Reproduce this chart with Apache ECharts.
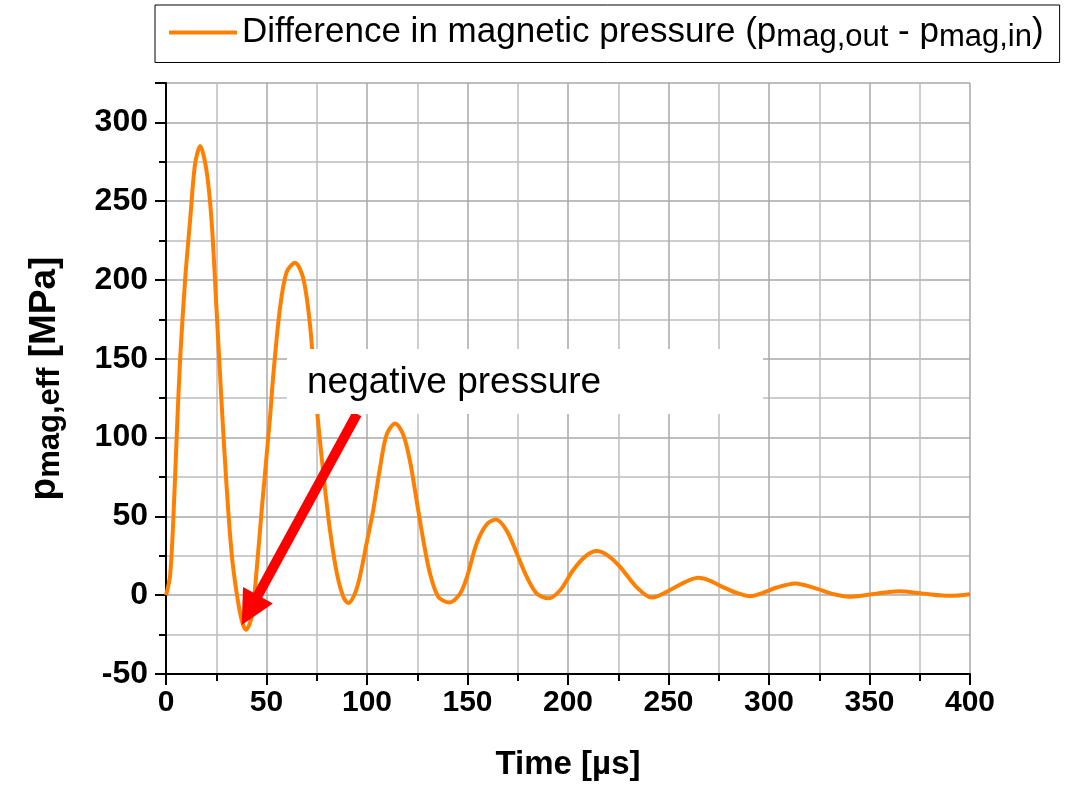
<!DOCTYPE html>
<html>
<head>
<meta charset="utf-8">
<script src="https://cdn.jsdelivr.net/npm/echarts@6/dist/echarts.min.js"></script>
<style>
html,body{margin:0;padding:0;background:#fff;}
#c{width:1070px;height:786px;}
</style>
</head>
<body>
<div id="c"></div>
<script>
// Time [µs]
const timeUs = [0,2,3.6,5.3,7,9.5,12,14.4,17,20.2,22.7,25.2,27.7,30.2,32.7,35.2,37.7,39.8,42.6,45.1,47.6,51.7,53.4,56.7,60,64.2,68.3,71.6,75,78.3,81.6,85,88.2,90.7,94,96.5,99.8,103.1,106.5,109.8,114,118,121.4,124.7,128,131.3,135.5,141,146.3,149.6,154.6,159.6,164.2,169.5,174.5,179.5,184.5,190.2,196,202.6,208.5,214.3,220,225.9,234.2,241.6,252.4,258.5,264.8,271,277.3,284,290.5,297,303.8,313,323.7,331,340.3,347,353.6,364.4,376.8,390,400];
// Difference in magnetic pressure [MPa]
const pressure = [0,12,47,100,149,200,238,273,285,269,237,180,121,68,26,1,-16,-22,-14,16,54,112,140,182,205,211,201,172,119,77,41,14,-1,-5,1,12,33,54,81,102,109,102,85,60,35,14,-1,-4.6,1,11,33,45,48,41,26.6,11.6,1,-2,3,16,24.5,28,25,18,5,-1.5,4.4,8.5,11,9,5,1.5,-0.6,1.5,4.9,7.5,4.2,1,-1,-0.2,1,2.5,1,-0.4,0.6];
const xTicks = {min: 0, max: 400, interval: 50};
const yTicks = {min: -50, max: 325, interval: 50};
// annotation arrow (data coordinates): from label box to the negative trough
const arrowFrom = [95, 115];
const arrowTo = [41.7, -9.5];
const annotationText = 'negative pressure';

const chart = echarts.init(document.getElementById('c'));
const seriesData = timeUs.map((t, i) => [t, pressure[i]]);
const FONT = 'Liberation Sans, Arial, sans-serif';

chart.setOption({
  animation: false,
  backgroundColor: '#fff',
  grid: {left: 166, right: 100, top: 83, bottom: 112, containLabel: false},
  legend: {
    left: 155, top: 5,
    padding: [10, 16, 10, 14],
    borderColor: '#000', borderWidth: 1,
    itemWidth: 68, itemHeight: 4, itemGap: 10,
    icon: 'rect',
    data: ['diff'],
    formatter: () => '{a|Difference in magnetic pressure (p}{s|mag,out}{a| - p}{s|mag,in}{a|)}',
    textStyle: {
      fontFamily: FONT, color: '#000', padding: [0,0,0,0],
      rich: {
        a: {fontFamily: FONT, fontSize: 35, color: '#000', lineHeight: 40, verticalAlign: 'middle'},
        s: {fontFamily: FONT, fontSize: 31, color: '#000', lineHeight: 28, verticalAlign: 'bottom'}
      }
    }
  },
  xAxis: {
    type: 'value', min: xTicks.min, max: xTicks.max, interval: xTicks.interval,
    name: 'Time [µs]', nameLocation: 'middle', nameGap: 74,
    nameTextStyle: {fontFamily: FONT, fontSize: 33, fontWeight: 'bold', color: '#000'},
    axisLine: {show: true, onZero: false, lineStyle: {color: '#000', width: 2}},
    axisTick: {show: true, length: 11, lineStyle: {color: '#000', width: 2}},
    minorTick: {show: true, splitNumber: 2, length: 7, lineStyle: {color: '#000', width: 2}},
    axisLabel: {fontFamily: FONT, fontSize: 30, fontWeight: 'bold', color: '#000', margin: 14},
    splitLine: {show: true, lineStyle: {color: '#a8a8a8', width: 1.5}},
    minorSplitLine: {show: true, lineStyle: {color: '#bdbdbd', width: 1.5}}
  },
  yAxis: {
    type: 'value', min: yTicks.min, max: yTicks.max, interval: yTicks.interval,
    name: '{p|p}{s|mag,eff}{p| [MPa]}', nameLocation: 'middle', nameGap: 100, nameRotate: 90,
    nameTextStyle: {
      fontFamily: FONT, color: '#000',
      rich: {
        p: {fontFamily: FONT, fontSize: 37, fontWeight: 'bold', color: '#000', lineHeight: 42, verticalAlign: 'middle'},
        s: {fontFamily: FONT, fontSize: 31, fontWeight: 'bold', color: '#000', lineHeight: 28, verticalAlign: 'bottom'}
      }
    },
    axisLine: {show: true, onZero: false, lineStyle: {color: '#000', width: 2}},
    axisTick: {show: true, length: 11, lineStyle: {color: '#000', width: 2}},
    minorTick: {show: true, splitNumber: 2, length: 7, lineStyle: {color: '#000', width: 2}},
    axisLabel: {fontFamily: FONT, fontSize: 32, fontWeight: 'bold', color: '#000', margin: 18,
      formatter: v => (v % 50 === 0 ? String(v) : '')},
    splitLine: {show: true, lineStyle: {color: '#a8a8a8', width: 1.5}},
    minorSplitLine: {show: true, lineStyle: {color: '#bdbdbd', width: 1.5}}
  },
  series: [{
    name: 'diff', type: 'line', data: seriesData,
    showSymbol: false, smooth: 0.3,
    lineStyle: {color: '#ff8000', width: 4},
    itemStyle: {color: '#ff8000'},
    z: 3,
    markLine: {
      silent: true, animation: false,
      symbol: ['none', 'triangle'], symbolSize: [34, 34],
      label: {show: false},
      lineStyle: {color: '#ff0000', width: 10, type: 'solid'},
      itemStyle: {color: '#ff0000'},
      data: [[{coord: arrowFrom}, {coord: arrowTo}]]
    }
  }],
  graphic: [
    {type: 'rect', left: 287, top: 349, z: 100, shape: {width: 476, height: 65}, style: {fill: '#ffffff'}},
    {type: 'text', left: 307, top: 364, z: 101, style: {text: annotationText, font: '37px ' + FONT, fill: '#000'}}
  ]
});
</script>
</body>
</html>
